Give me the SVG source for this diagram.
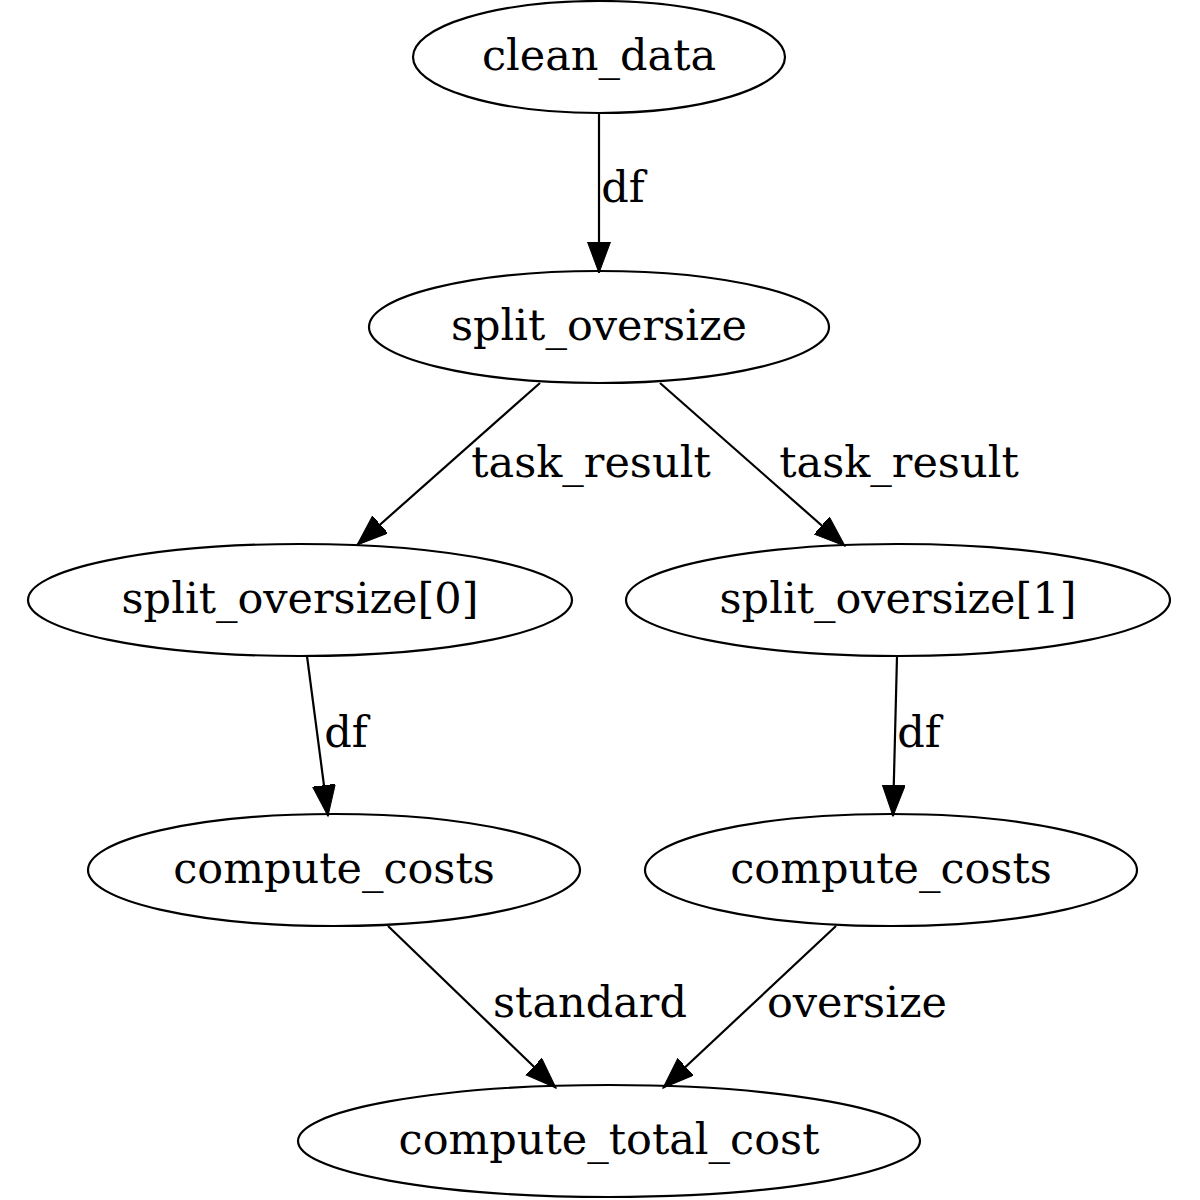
<svg xmlns="http://www.w3.org/2000/svg" width="1200" height="1200" viewBox="0 0 1200 1200">
<style>
.node ellipse{fill:none;stroke:#000;stroke-width:2.2}
text{font-family:"DejaVu Serif","Liberation Serif",serif;font-size:43px;fill:#000;text-anchor:middle}
.edge line{stroke:#000;stroke-width:2.2;marker-end:url(#ah)}
</style>
<defs>
<marker id="ah" markerWidth="34" markerHeight="24" refX="31" refY="11.5" orient="auto" markerUnits="userSpaceOnUse">
<path d="M0,0 L31,11.5 L0,23 z" fill="#000" stroke="#000" stroke-width="1"/>
</marker>
</defs>
<rect width="1200" height="1200" fill="#fff"/>
<g id="edges" class="edge">
<line x1="599" y1="113" x2="599" y2="273"/>
<line x1="540" y1="383" x2="357" y2="545"/>
<line x1="660" y1="383" x2="845" y2="546"/>
<line x1="307" y1="656" x2="328" y2="816"/>
<line x1="897" y1="656" x2="893" y2="816"/>
<line x1="388" y1="926" x2="556" y2="1088"/>
<line x1="836" y1="926" x2="663" y2="1088"/>
</g>
<g id="edge-labels">
<text x="623" y="202">df</text>
<text x="591" y="477">task_result</text>
<text x="899" y="477">task_result</text>
<text x="346" y="747">df</text>
<text x="919" y="747">df</text>
<text x="590" y="1017">standard</text>
<text x="857" y="1017">oversize</text>
</g>
<g id="clean_data" class="node"><ellipse cx="599" cy="57" rx="186" ry="56"/><text x="599" y="70">clean_data</text></g>
<g id="split_oversize" class="node"><ellipse cx="599" cy="327" rx="230" ry="56"/><text x="599" y="340">split_oversize</text></g>
<g id="split_oversize_0" class="node"><ellipse cx="300" cy="600" rx="272" ry="56"/><text x="300" y="613">split_oversize[0]</text></g>
<g id="split_oversize_1" class="node"><ellipse cx="898" cy="600" rx="272" ry="56"/><text x="898" y="613">split_oversize[1]</text></g>
<g id="compute_costs_0" class="node"><ellipse cx="334" cy="870" rx="246" ry="56"/><text x="334" y="883">compute_costs</text></g>
<g id="compute_costs_1" class="node"><ellipse cx="891" cy="870" rx="246" ry="56"/><text x="891" y="883">compute_costs</text></g>
<g id="compute_total_cost" class="node"><ellipse cx="609" cy="1141" rx="311" ry="56"/><text x="609" y="1154">compute_total_cost</text></g>
</svg>
